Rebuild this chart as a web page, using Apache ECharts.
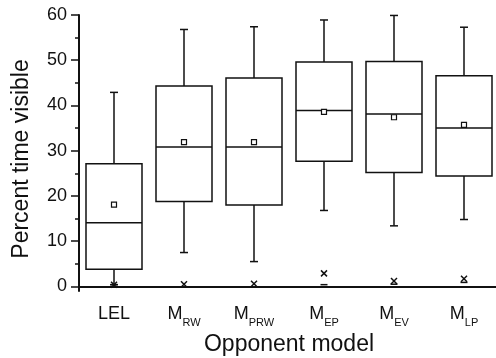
<!DOCTYPE html>
<html>
<head>
<meta charset="utf-8">
<script src="https://cdn.jsdelivr.net/npm/echarts@6/dist/echarts.min.js"></script>
<style>
  html, body { margin: 0; padding: 0; background: #fff; }
  #chart { width: 496px; height: 358px; }
</style>
</head>
<body>
<div id="chart"></div>
<script>
// Opponent models; "M_XX" is drawn as M with subscript XX
const categories = ['LEL', 'M_RW', 'M_PRW', 'M_EP', 'M_EV', 'M_LP'];

// Box-plot statistics (percent time visible)
const whiskerLow  = [0.4, 7.5, 5.5, 16.8, 13.4, 14.8];
const q1          = [3.8, 18.8, 18.0, 27.7, 25.2, 24.4];
const median      = [14.1, 30.8, 30.8, 38.9, 38.1, 35.0];
const q3          = [27.1, 44.3, 46.1, 49.6, 49.7, 46.6];
const whiskerHigh = [42.9, 56.8, 57.4, 58.9, 59.9, 57.3];
const mean        = [18.1, 31.9, 31.9, 38.6, 37.4, 35.7];
const pct1        = [0.4, 0.5, 0.6, 2.9, 1.2, 1.7];   // drawn as ×
const minimum     = [0.4, null, null, 0.4, 0.5, 0.9]; // drawn as –

const yTicks      = [0, 10, 20, 30, 40, 50, 60];
const yMinorTicks = [5, 15, 25, 35, 45, 55];

const INK = '#111';
const FONT = 'Liberation Sans, Arial, sans-serif';

const rows = categories.map((c, i) => [i, whiskerLow[i], q1[i], median[i], q3[i], whiskerHigh[i], mean[i], pct1[i]]);

function line(x1, y1, x2, y2) {
  return { type: 'line', shape: { x1, y1, x2, y2 }, style: { stroke: INK, lineWidth: 1.5 } };
}

function renderBox(params, api) {
  const i = api.value(0);
  const idx = params.dataIndex;
  const band = api.size([1, 0])[0];
  const half = band * 0.4;
  const cap = 4;
  const x = api.coord([i, 0])[0];
  const y = v => api.coord([i, v])[1];
  const yLo = y(api.value(1)), yQ1 = y(api.value(2)), yMed = y(api.value(3));
  const yQ3 = y(api.value(4)), yHi = y(api.value(5)), yMean = y(api.value(6));
  const yP1 = y(api.value(7));
  const kids = [
    // whiskers and caps
    line(x, yQ3, x, yHi), line(x - cap, yHi, x + cap, yHi),
    line(x, yQ1, x, yLo), line(x - cap, yLo, x + cap, yLo),
    // box
    { type: 'rect', shape: { x: x - half, y: yQ3, width: half * 2, height: yQ1 - yQ3 },
      style: { fill: 'none', stroke: INK, lineWidth: 1.5 } },
    // median
    line(x - half, yMed, x + half, yMed),
    // mean
    { type: 'rect', shape: { x: x - 2.5, y: yMean - 2.5, width: 5, height: 5 },
      style: { fill: '#fff', stroke: INK, lineWidth: 1.2 } },
    // 1st percentile ×
    line(x - 3, yP1 - 3, x + 3, yP1 + 3), line(x - 3, yP1 + 3, x + 3, yP1 - 3)
  ];
  if (minimum[idx] != null) {
    const ym = y(minimum[idx]);
    kids.push(line(x - 3.5, ym, x + 3.5, ym));
  }
  return { type: 'group', children: kids };
}

const chart = echarts.init(document.getElementById('chart'), null, { renderer: 'canvas' });
chart.setOption({
  animation: false,
  backgroundColor: '#fff',
  grid: { left: 79, right: -3, top: 15, bottom: 67, containLabel: false, outerBoundsMode: 'none' },
  xAxis: {
    type: 'category',
    data: categories,
    boundaryGap: true,
    name: 'Opponent model',
    nameLocation: 'middle',
    nameGap: 41,
    nameTextStyle: { fontSize: 23, color: INK, fontFamily: FONT },
    axisLine: { lineStyle: { color: INK, width: 2 } },
    axisTick: { alignWithLabel: true, length: 7, lineStyle: { color: INK, width: 1.5 } },
    axisLabel: {
      interval: 0,
      margin: 14,
      formatter: v => {
        const p = v.split('_');
        return p.length > 1 ? '{m|' + p[0] + '}{s|' + p[1] + '}' : '{m|' + v + '}';
      },
      rich: {
        m: { fontSize: 18, lineHeight: 18, verticalAlign: 'top', color: INK, fontFamily: FONT },
        s: { fontSize: 11, lineHeight: 11, verticalAlign: 'top', padding: [12, 0, 0, 0], color: INK, fontFamily: FONT }
      }
    },
    splitLine: { show: false }
  },
  yAxis: [{
    type: 'value',
    min: -1,
    max: 60,
    name: 'Percent time visible',
    nameLocation: 'middle',
    nameGap: 46,
    nameTextStyle: { fontSize: 23, color: INK, fontFamily: FONT, padding: [0, 12, 0, 0] },
    axisLine: { show: true, lineStyle: { color: INK, width: 2 } },
    axisTick: { show: true, length: 8, customValues: yTicks, lineStyle: { color: INK, width: 1.5 } },
    axisLabel: { customValues: yTicks, margin: 12, fontSize: 18, color: INK, fontFamily: FONT },
    splitLine: { show: false }
  }, {
    type: 'value',
    min: -1,
    max: 60,
    position: 'left',
    axisLine: { show: false },
    axisTick: { show: true, length: 4, customValues: yMinorTicks, lineStyle: { color: INK, width: 1.5 } },
    axisLabel: { show: false },
    splitLine: { show: false }
  }],
  series: [{
    type: 'custom',
    renderItem: renderBox,
    data: rows,
    encode: { x: 0, y: [1, 2, 3, 4, 5, 6, 7] },
    clip: false
  }]
});
</script>
</body>
</html>
